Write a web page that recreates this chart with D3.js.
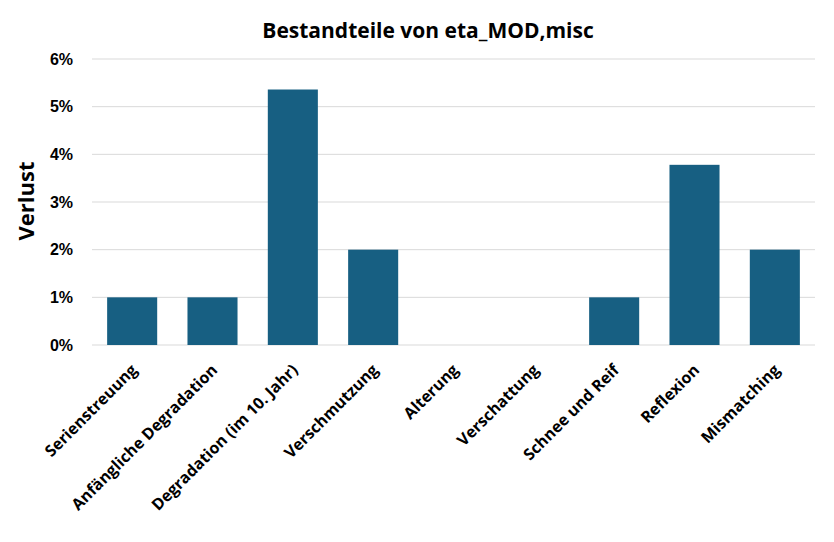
<!DOCTYPE html>
<html>
<head>
<meta charset="utf-8">
<script src="https://cdn.jsdelivr.net/npm/d3@7"></script>
<style>
  body { margin: 0; background: #fff; }
</style>
</head>
<body>
<div id="chart"></div>
<script>
// data
var categories = ["Serienstreuung", "Anfängliche Degradation", "Degradation (im 10. Jahr)", "Verschmutzung",
                  "Alterung", "Verschattung", "Schnee und Reif", "Reflexion", "Mismatching"];
var values = [0.01, 0.01, 0.0536, 0.02, 0, 0, 0.01, 0.0378, 0.02];
var yTicks = [0, 0.01, 0.02, 0.03, 0.04, 0.05, 0.06];

var W = 834, H = 542;
var margin = {top: 59, right: 19, bottom: 197, left: 92},
    width = W - margin.left - margin.right,
    height = H - margin.top - margin.bottom;

var svg = d3.select("#chart")
    .append("svg")
    .attr("width", W)
    .attr("height", H);

var g = svg.append("g")
    .attr("transform", "translate(" + margin.left + "," + margin.top + ")");

var x = d3.scaleBand()
    .domain(categories)
    .range([0, width])
    .paddingInner(0.377)
    .paddingOuter(0.1885);

var y = d3.scaleLinear()
    .domain([0, 0.06])
    .range([height, 0]);

// gridlines
g.selectAll(".grid")
    .data(yTicks)
    .enter().append("line")
    .attr("x1", 0)
    .attr("x2", width)
    .attr("y1", function(d){ return y(d); })
    .attr("y2", function(d){ return y(d); })
    .style("stroke", "#d9d9d9")
    .style("stroke-width", "1px");

// bars
g.selectAll(".bar")
    .data(values)
    .enter().append("rect")
    .attr("x", function(d, i){ return x(categories[i]); })
    .attr("width", x.bandwidth())
    .attr("y", function(d){ return y(d); })
    .attr("height", function(d){ return height - y(d); })
    .style("fill", "#175f82");

// y axis
var yAxis = g.append("g")
    .call(d3.axisLeft(y).tickValues(yTicks).tickFormat(d3.format(".0%")).tickSize(0).tickPadding(19));
yAxis.select(".domain").remove();
yAxis.selectAll("text")
    .style("font-family", "'Liberation Sans', Arial, sans-serif")
    .style("font-weight", "bold")
    .style("font-size", "16px")
    .style("fill", "#000");

// x axis
var xAxis = g.append("g")
    .attr("transform", "translate(0," + height + ")")
    .call(d3.axisBottom(x).tickSize(0).tickPadding(0));
xAxis.select(".domain").remove();
xAxis.selectAll("text")
    .attr("text-anchor", "end")
    .attr("dy", "0")
    .attr("transform", "translate(6,26) rotate(-45)")
    .style("font-family", "'Open Sans', sans-serif")
    .style("font-weight", "bold")
    .style("font-size", "16px")
    .style("fill", "#000");

// title
svg.append("text")
    .attr("x", 428)
    .attr("y", 38)
    .attr("text-anchor", "middle")
    .style("font-family", "'Open Sans', sans-serif")
    .style("font-weight", "bold")
    .style("font-size", "21px")
    .text("Bestandteile von eta_MOD,misc");

// y label
svg.append("text")
    .attr("transform", "translate(34,201) rotate(-90)")
    .attr("text-anchor", "middle")
    .style("font-family", "'Open Sans', sans-serif")
    .style("font-weight", "bold")
    .style("font-size", "22px")
    .text("Verlust");
</script>
</body>
</html>
